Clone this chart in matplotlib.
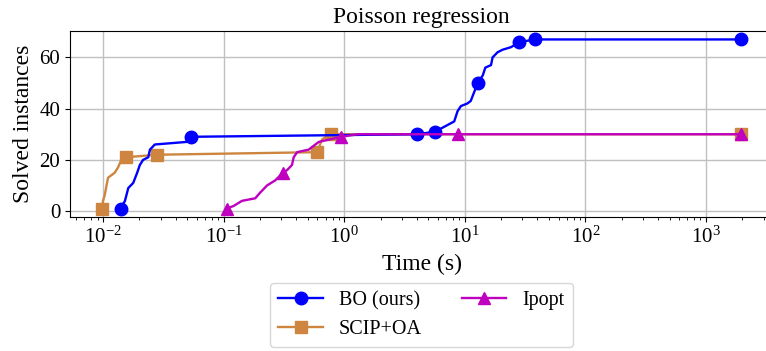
import matplotlib
matplotlib.use("Agg")
import matplotlib.pyplot as plt

plt.rcParams['font.family'] = ['Liberation Serif', 'DejaVu Serif']
plt.rcParams['mathtext.fontset'] = 'custom'
plt.rcParams['mathtext.rm'] = 'Liberation Serif'
plt.rcParams['mathtext.it'] = 'Liberation Serif:italic'

# solve times (s) vs. number of solved instances
bo_time = [0.0140, 0.0152, 0.0162, 0.0178, 0.0192, 0.0202, 0.0215, 0.0237, 0.0245,
           0.0269, 0.0494, 0.0533, 4.05, 5.67, 8.17, 8.71, 9.29, 10.5, 11.2, 12.8,
           14.1, 14.8, 16.5, 17.0, 18.7, 20.6, 24.2, 28.4, 38.5, 1955]
bo_solved = [1, 4, 9, 11, 15, 18, 20, 21, 24, 26, 27, 29, 30, 31, 35, 39, 41, 42, 43, 50,
             53, 56, 57, 60, 62, 63, 64, 66, 67, 67]

scip_time = [0.0098, 0.0100, 0.0103, 0.0110, 0.0125, 0.0133, 0.0142, 0.0154, 0.0278,
             0.595, 0.656, 0.77, 1955]
scip_solved = [1, 4, 6, 13, 15, 17, 20, 21, 22, 23, 28, 30, 30]

ipopt_time = [0.106, 0.121, 0.142, 0.183, 0.199, 0.229, 0.268, 0.311, 0.336, 0.369,
              0.381, 0.407, 0.508, 0.615, 0.944, 1.3, 8.7, 1955]
ipopt_solved = [1, 2, 4, 5, 7, 10, 12, 15, 16, 18, 21, 23, 24, 27, 29, 30, 30, 30]

fig = plt.figure(figsize=(7.66, 3.51), dpi=100)
ax = fig.add_axes([0.0914, 0.3818, 0.9178, 0.5299])

ax.plot(bo_time, bo_solved, color='blue', marker='o', markersize=9, lw=1.7,
        markevery=[0, 11, 12, 13, 19, 27, 28, 29], label='BO (ours)', zorder=3)
ax.plot(scip_time, scip_solved, color='peru', marker='s', markersize=8.5, lw=1.7,
        markevery=[0, 7, 8, 9, 11, 12], label='SCIP+OA', zorder=2)
ax.plot(ipopt_time, ipopt_solved, color='m', marker='^', markersize=9, lw=1.7,
        markevery=[0, 7, 14, 16, 17], label='Ipopt', zorder=4)

ax.set_xscale('log')
ax.set_yticks([0, 20, 40, 60])
ax.grid(True, color='#c0c0c0', lw=1)
ax.set_axisbelow(True)
ax.tick_params(labelsize=15)
ax.set_title('Poisson regression', fontsize=17)
ax.set_xlabel('Time (s)', fontsize=17)
ax.set_ylabel('Solved instances', fontsize=17)
ax.legend(loc='upper center', bbox_to_anchor=(0.5, -0.30), ncol=2, fontsize=14.5,
          columnspacing=2.0, handlelength=2.2)

fig.savefig('out.png', dpi=100)
